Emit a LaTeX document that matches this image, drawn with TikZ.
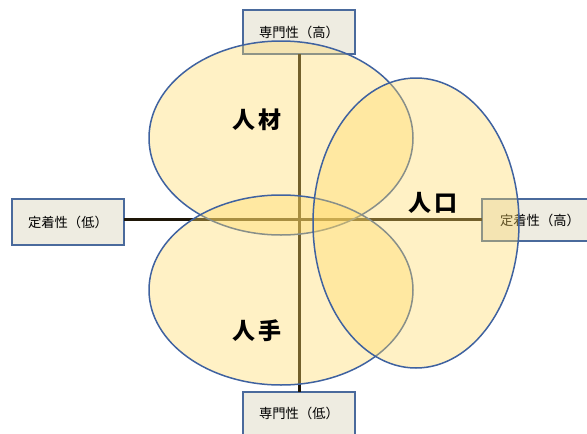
\documentclass[tikz,border=0pt]{standalone}
\usepackage{fontspec}
\newfontfamily\cjk{Noto Sans CJK JP}
\definecolor{boxfill}{HTML}{EEECE1}
\definecolor{boxline}{HTML}{4A6A9C}
\definecolor{elline}{HTML}{3F62A0}
\definecolor{elfill}{HTML}{FFD966}
\definecolor{axis}{HTML}{1E1608}
\begin{document}
\begin{tikzpicture}[x=1pt,y=-1pt,
  lbox/.style={draw=boxline,line width=1.5pt,fill=boxfill},
  ltext/.style={font=\cjk\fontsize{13.3}{15}\selectfont,inner sep=0pt},
  oval/.style={draw=elline,line width=1.5pt,fill=elfill,fill opacity=0.38},
  axisline/.style={draw=axis,line width=3pt},
  big/.style={font=\cjk\bfseries\fontsize{23}{26}\selectfont,inner sep=0pt}]
\clip (0,0) rectangle (587,434);
\useasboundingbox (0,0) rectangle (587,434);
% boxes
\draw[lbox] (243,10) rectangle (355,54);
\node[ltext] (top) at (299,32) {専門性（高）};
\draw[lbox] (12,199) rectangle (124,245);
\node[ltext] (left) at (68,222) {定着性（低）};
\draw[lbox] (482,199) rectangle (600,241);
\node[ltext] (right) at (540,220) {定着性（高）};
\draw[lbox] (243,392) rectangle (355,445);
\node[ltext] (bottom) at (299,413) {専門性（低）};
% axes
\coordinate (vt) at (299,54);
\coordinate (vb) at (299,392);
\coordinate (hl) at (124,219);
\coordinate (hr) at (482,219);
\draw[axisline] (vt) -- (vb);
\draw[axisline] (hl) -- (hr);
% ellipses
\draw[oval] (281,138) ellipse [x radius=132, y radius=97];
\draw[oval] (281,290) ellipse [x radius=132, y radius=95];
\draw[oval] (416,223) ellipse [x radius=103, y radius=145];
% labels
\node[big] (jinzai) at (257,120) {人\hspace{3pt}材};
\node[big] (jinko) at (433,203) {人\hspace{3pt}口};
\node[big] (jinshu) at (257,331) {人\hspace{3pt}手};
\end{tikzpicture}
\end{document}
